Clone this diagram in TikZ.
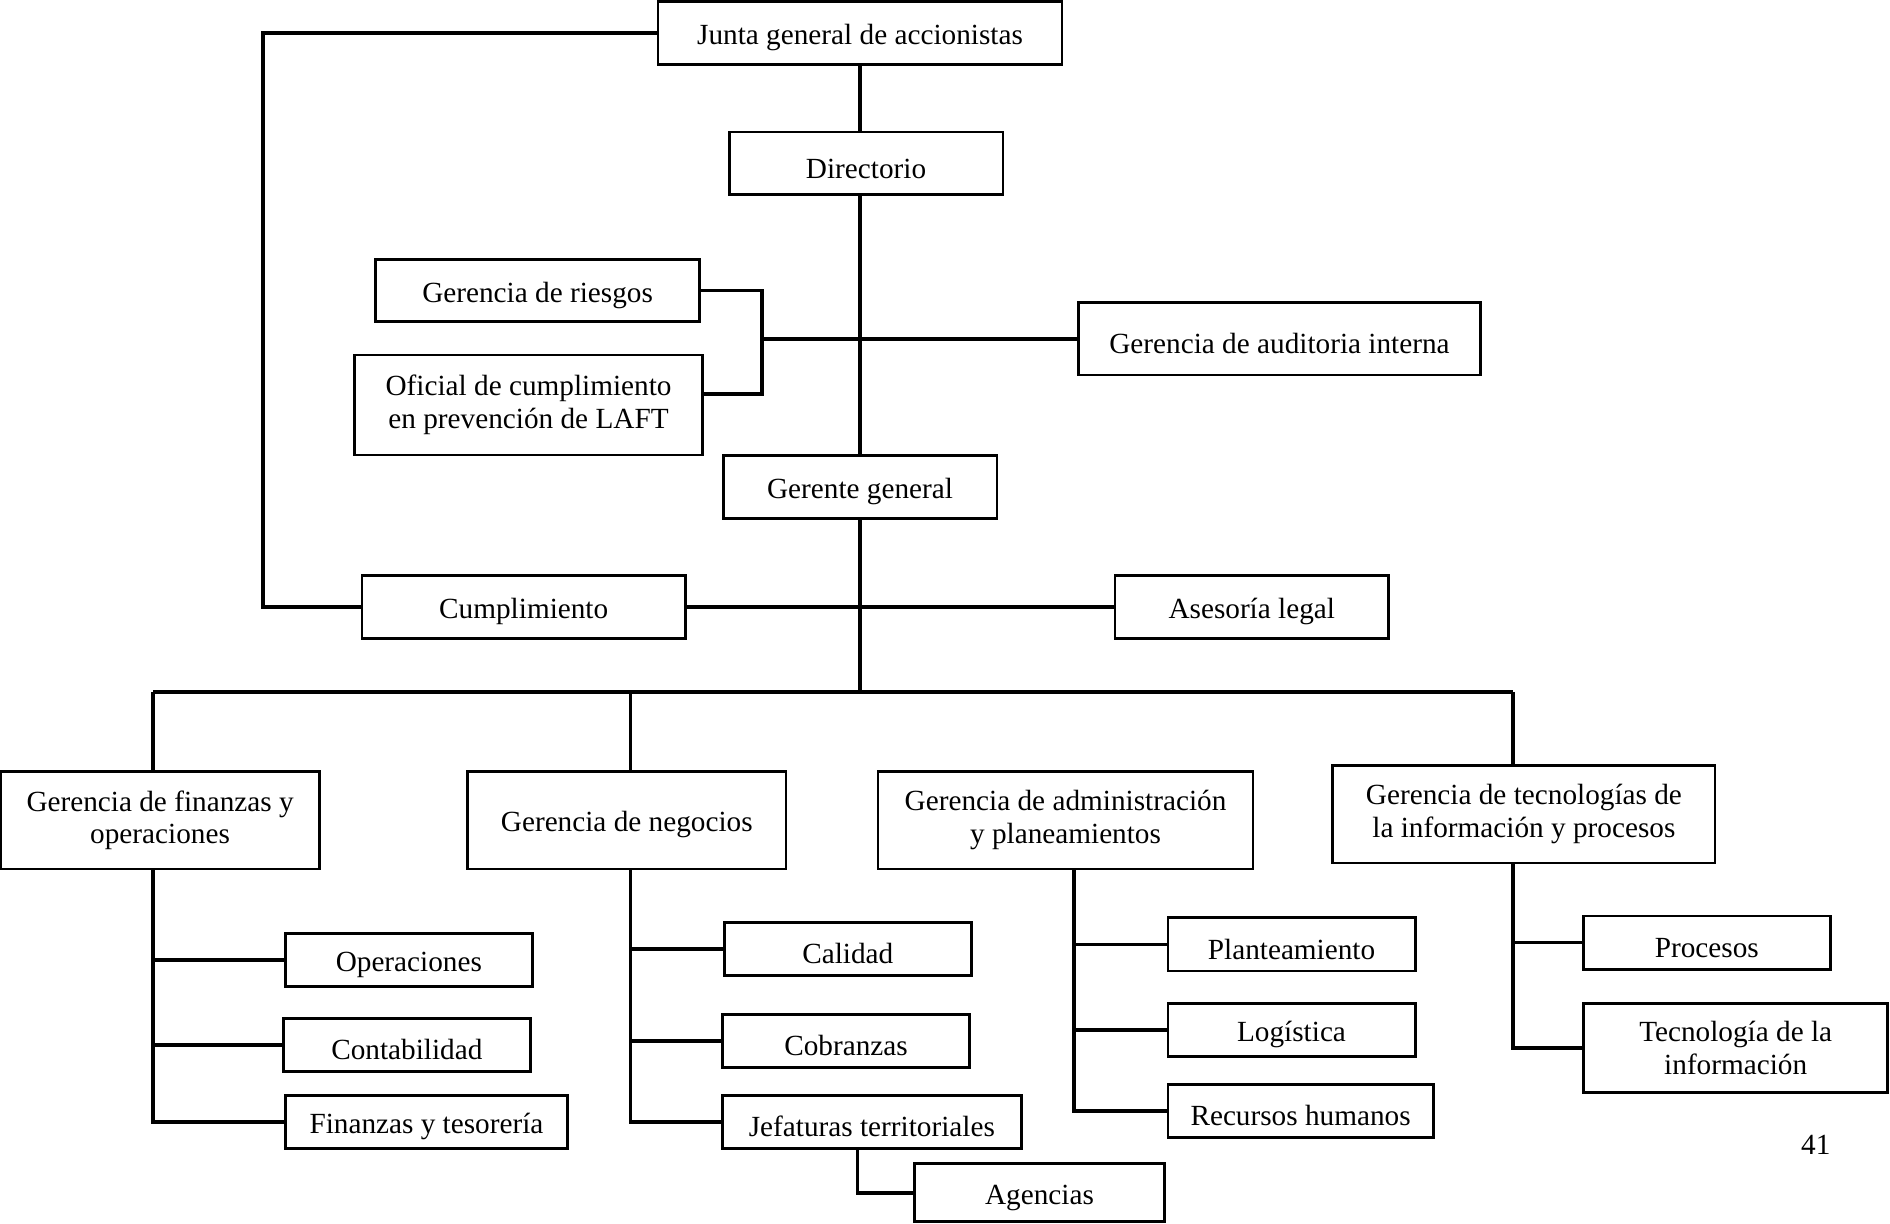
\documentclass[tikz,border=0pt]{standalone}
\usepackage{fontspec}
\setmainfont{Liberation Serif}
\usetikzlibrary{positioning,calc}

\begin{document}
\begin{tikzpicture}[x=0.01cm, y=-0.01cm,
  caja/.style={draw, rectangle, line width=0.65pt, inner sep=0pt, align=center, font=\fontsize{6.9}{7.7}\selectfont, execute at begin node={\rule{0pt}{7pt}}},
  linea/.style={line width=0.85pt}]
\useasboundingbox (0,0) rectangle (1568,1015);

% 上层
\node[caja, minimum width=3.35cm, minimum height=0.52cm] (junta) at (713.5,27.5) {Junta general de accionistas};
\node[caja, minimum width=2.27cm, minimum height=0.52cm] (directorio) at (718.5,135.5) {Directorio};
\node[caja, minimum width=2.69cm, minimum height=0.52cm] (riesgos) at (446,241) {Gerencia de riesgos};
\node[caja, minimum width=2.89cm, minimum height=0.83cm] (oficial) at (438.5,336) {Oficial de cumplimiento\\en prevención de LAFT};
\node[caja, minimum width=3.33cm, minimum height=0.60cm] (auditoria) at (1061.5,281) {Gerencia de auditoria interna};
\node[caja, minimum width=2.27cm, minimum height=0.52cm] (gerente) at (713.5,404) {Gerente general};
\node[caja, minimum width=2.68cm, minimum height=0.52cm] (cumplimiento) at (434.5,503.5) {Cumplimiento};
\node[caja, minimum width=2.27cm, minimum height=0.52cm] (asesoria) at (1038.5,503.5) {Asesoría legal};

% 各部门
\node[caja, minimum width=2.64cm, minimum height=0.81cm] (finanzas) at (132.8,680.5) {Gerencia de finanzas y\\operaciones};
\node[caja, minimum width=2.64cm, minimum height=0.81cm] (negocios) at (520,680.5) {Gerencia de negocios};
\node[caja, minimum width=3.11cm, minimum height=0.81cm] (administracion) at (884,680.5) {Gerencia de administración\\y planeamientos};
\node[caja, minimum width=3.17cm, minimum height=0.81cm] (tecnologias) at (1264.3,675.5) {Gerencia de tecnologías de\\la información y procesos};

% 下层
\node[caja, minimum width=2.05cm, minimum height=0.44cm] (operaciones) at (339.2,796.4) {Operaciones};
\node[caja, minimum width=2.05cm, minimum height=0.44cm] (contabilidad) at (337.5,867.2) {Contabilidad};
\node[caja, minimum width=2.34cm, minimum height=0.44cm] (tesoreria) at (353.8,930.7) {Finanzas y tesorería};
\node[caja, minimum width=2.05cm, minimum height=0.44cm] (calidad) at (703.4,787.5) {Calidad};
\node[caja, minimum width=2.05cm, minimum height=0.44cm] (cobranzas) at (701.9,863.5) {Cobranzas};
\node[caja, minimum width=2.48cm, minimum height=0.44cm] (jefaturas) at (723.3,930.7) {Jefaturas territoriales};
\node[caja, minimum width=2.07cm, minimum height=0.48cm] (agencias) at (862.4,989.5) {Agencias};
\node[caja, minimum width=2.05cm, minimum height=0.44cm] (planteamiento) at (1071.5,783.5) {Planteamiento};
\node[caja, minimum width=2.05cm, minimum height=0.44cm] (logistica) at (1071.5,854.5) {Logística};
\node[caja, minimum width=2.20cm, minimum height=0.44cm] (rrhh) at (1079,921.7) {Recursos humanos};
\node[caja, minimum width=2.05cm, minimum height=0.44cm] (procesos) at (1416,782) {Procesos};
\node[caja, minimum width=2.52cm, minimum height=0.74cm] (tecinfo) at (1440,869.5) {Tecnología de la\\información};

\node[font=\fontsize{6.9}{7.7}\selectfont, inner sep=0pt] (pagina) at (1506.5,950) {41};

% 连线
\coordinate (brazo) at (632,281);
\coordinate (lazo) at (218,300);
\coordinate (busizq) at (127,574);
\coordinate (busneg) at (523,574);
\coordinate (busder) at (1255,574);
\coordinate (admbaja) at ([xshift=0.07cm]administracion.south);

\draw[linea] (junta.south) -- (junta.south |- directorio.north);
\draw[linea] (junta.south |- directorio.south) -- (gerente.north);
\draw[linea] (riesgos.east) -| (brazo) |- ([yshift=0.09cm]oficial.east);
\draw[linea] (brazo) -- (auditoria.west);
\draw[linea] (junta.west) -| (lazo) |- (cumplimiento.west);
\draw[linea] (cumplimiento.east) -- (asesoria.west);
\draw[linea] (gerente.south) -- (gerente.south |- busizq);
\draw[linea] (busizq) -- (busder);
\draw[linea] (busizq) -- (busizq |- finanzas.north);
\draw[linea] (busneg) -- (busneg |- negocios.north);
\draw[linea] (busder) -- (busder |- tecnologias.north);

\draw[linea] (busizq |- finanzas.south) |- (tesoreria.west);
\draw[linea] (busizq |- operaciones.west) -- (operaciones.west);
\draw[linea] (busizq |- contabilidad.west) -- (contabilidad.west);

\draw[linea] (busneg |- negocios.south) |- (jefaturas.west);
\draw[linea] (busneg |- calidad.west) -- (calidad.west);
\draw[linea] (busneg |- cobranzas.west) -- (cobranzas.west);
\draw[linea] ([xshift=-0.12cm]jefaturas.south) |- (agencias.west);

\draw[linea] (admbaja) |- (rrhh.west);
\draw[linea] (admbaja |- planteamiento.west) -- (planteamiento.west);
\draw[linea] (admbaja |- logistica.west) -- (logistica.west);

\draw[linea] (busder |- tecnologias.south) |- (tecinfo.west);
\draw[linea] (busder |- procesos.west) -- (procesos.west);
\end{tikzpicture}
\end{document}
